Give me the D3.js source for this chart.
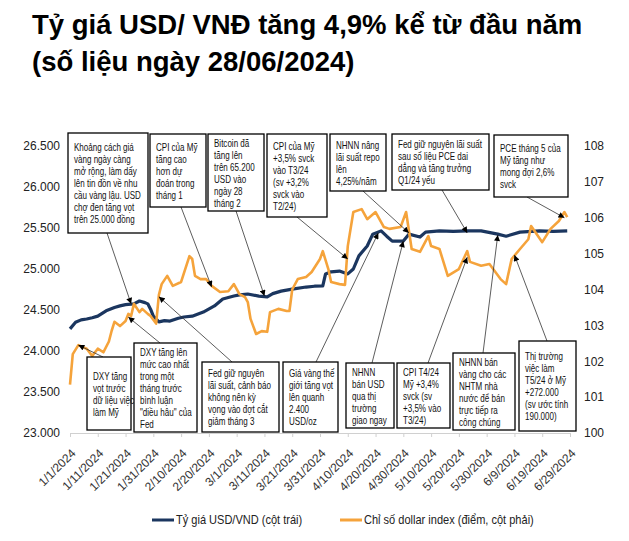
<!DOCTYPE html>
<html><head><meta charset="utf-8">
<script src="https://cdn.jsdelivr.net/npm/d3@7"></script>
<style>
body{margin:0;background:#fff}
svg{display:block}
text{font-family:"Liberation Sans",Arial,Helvetica,sans-serif}
</style>
</head><body>
<svg id="c" width="629" height="541"></svg>
<script>
// ---------- DATA ----------
const titleLines = ["Tỷ giá USD/ VNĐ tăng 4,9% kể từ đầu năm", "(số liệu ngày 28/06/2024)"];
const leftTicks = [23000, 23500, 24000, 24500, 25000, 25500, 26000, 26500];
const rightTicks = [100, 101, 102, 103, 104, 105, 106, 107, 108];
const xTickDates = ["2024-01-01","2024-01-11","2024-01-21","2024-01-31","2024-02-10","2024-02-20",
  "2024-03-01","2024-03-11","2024-03-21","2024-03-31","2024-04-10","2024-04-20","2024-04-30",
  "2024-05-10","2024-05-20","2024-05-30","2024-06-09","2024-06-19","2024-06-29"];
const seriesNames = ["Tỷ giá USD/VND (cột trái)", "Chỉ số dollar index (điểm, cột phải)"];

// USD/VND rate (left axis)
const usdVnd = [
  ["2024-01-01",24270],["2024-01-03",24350],["2024-01-05",24380],["2024-01-07",24390],["2024-01-09",24405],
  ["2024-01-11",24425],["2024-01-14",24490],["2024-01-17",24530],["2024-01-19",24550],["2024-01-21",24565],
  ["2024-01-24",24575],["2024-01-26",24610],["2024-01-28",24590],["2024-01-29",24575],["2024-01-30",24510],
  ["2024-01-31",24425],["2024-02-02",24355],["2024-02-04",24370],["2024-02-06",24365],["2024-02-09",24400],
  ["2024-02-11",24415],["2024-02-14",24425],["2024-02-18",24475],["2024-02-22",24550],["2024-02-25",24635],
  ["2024-02-29",24670],["2024-03-02",24685],["2024-03-05",24695],["2024-03-09",24670],["2024-03-12",24660],
  ["2024-03-14",24700],["2024-03-17",24730],["2024-03-21",24755],["2024-03-26",24780],["2024-03-29",24790],
  ["2024-04-01",24795],["2024-04-02",24940],["2024-04-04",24965],["2024-04-07",24975],["2024-04-10",24940],
  ["2024-04-12",25000],["2024-04-14",25160],["2024-04-17",25280],["2024-04-19",25425],["2024-04-22",25465],
  ["2024-04-24",25400],["2024-04-26",25340],["2024-04-30",25340],["2024-05-02",25425],["2024-05-06",25390],
  ["2024-05-08",25450],["2024-05-13",25465],["2024-05-18",25460],["2024-05-23",25465],["2024-05-28",25465],
  ["2024-06-03",25425],["2024-06-06",25400],["2024-06-11",25450],["2024-06-18",25465],["2024-06-23",25460],
  ["2024-06-28",25465]
];

// Dollar index (right axis)
const dxy = [
  ["2024-01-01",101.35],["2024-01-02",102.2],["2024-01-04",102.45],["2024-01-07",102.35],["2024-01-09",102.15],
  ["2024-01-11",102.35],["2024-01-13",102.25],["2024-01-15",102.55],["2024-01-16",102.85],["2024-01-17",103.1],
  ["2024-01-19",102.98],["2024-01-21",103.12],["2024-01-22",103.32],["2024-01-23",103.26],["2024-01-24",103.6],
  ["2024-01-26",103.37],["2024-01-27",103.46],["2024-01-29",103.32],["2024-01-30",103.26],["2024-02-01",103.05],
  ["2024-02-02",103.85],["2024-02-03",104.15],["2024-02-05",104.38],["2024-02-07",104.1],["2024-02-10",104.21],
  ["2024-02-13",104.93],["2024-02-14",104.85],["2024-02-15",104.38],["2024-02-17",104.29],["2024-02-19",104.29],
  ["2024-02-21",104.1],["2024-02-24",103.93],["2024-02-27",103.95],["2024-02-29",104.15],["2024-03-02",103.87],
  ["2024-03-04",103.79],["2024-03-05",103.65],["2024-03-06",103.18],["2024-03-08",102.76],["2024-03-10",102.84],
  ["2024-03-12",102.82],["2024-03-13",103.37],["2024-03-16",103.46],["2024-03-19",103.4],["2024-03-20",103.4],
  ["2024-03-21",104.0],["2024-03-23",104.29],["2024-03-26",104.35],["2024-03-28",104.49],["2024-03-31",104.85],
  ["2024-04-01",105.07],["2024-04-03",104.57],["2024-04-04",104.21],["2024-04-07",104.15],["2024-04-09",104.13],
  ["2024-04-10",105.21],["2024-04-12",106.16],["2024-04-15",106.24],["2024-04-17",105.96],["2024-04-20",106.16],
  ["2024-04-23",105.74],["2024-04-25",105.69],["2024-04-29",105.74],["2024-05-01",106.16],["2024-05-03",105.13],
  ["2024-05-06",105.05],["2024-05-09",105.49],["2024-05-10",105.21],["2024-05-13",105.13],["2024-05-16",104.38],
  ["2024-05-20",104.57],["2024-05-23",105.07],["2024-05-24",104.77],["2024-05-28",104.66],["2024-05-31",104.71],
  ["2024-06-04",104.29],["2024-06-06",104.15],["2024-06-08",104.85],["2024-06-11",105.13],["2024-06-14",105.4],
  ["2024-06-15",105.77],["2024-06-19",105.32],["2024-06-22",105.69],["2024-06-25",105.91],["2024-06-27",106.16],
  ["2024-06-28",106.02]
];

// annotation texts and the data point each one points to
const noteTexts = [
  ["Khoảng cách giá","vàng ngày càng","mở rộng, làm dấy","lên tin đồn về nhu","cầu vàng lậu. USD","chợ đen tăng vọt","trên 25.000 đồng"],
  ["CPI của Mỹ","tăng cao","hơn dự","đoán trong","tháng 1"],
  ["Bitcoin đã","tăng lên","trên 65.200","USD vào","ngày 28","tháng 2"],
  ["CPI của Mỹ","+3,5% svck","vào T3/24","(sv +3,2%","svck vào","T2/24)"],
  ["NHNN nâng","lãi suất repo","lên","4,25%/năm"],
  ["Fed giữ nguyên lãi suất","sau số liệu PCE dai","dẳng và tăng trưởng","Q1/24 yếu"],
  ["PCE tháng 5 của","Mỹ tăng như","mong đợi 2,6%","svck"],
  ["DXY tăng","vọt trước","dữ liệu việc","làm Mỹ"],
  ["DXY tăng lên","mức cao nhất","trong một","tháng trước","bình luận","\"diều hâu\" của","Fed"],
  ["Fed giữ nguyên","lãi suất, cảnh báo","không nên kỳ","vọng vào đợt cắt","giảm tháng 3"],
  ["Giá vàng thế","giới tăng vọt","lên quanh","2.400","USD/oz"],
  ["NHNN","bán USD","qua thị","trường","giao ngay"],
  ["CPI T4/24","Mỹ +3,4%","svck (sv","+3,5% vào","T3/24)"],
  ["NHNN bán","vàng cho các","NHTM nhà","nước để bán","trực tiếp ra","công chúng"],
  ["Thị trường","việc làm","T5/24 ở Mỹ","+272.000","(sv ước tính","190.000)"]
];
const noteTargets = [
  ["2024-01-23","L",24575],["2024-02-21","R",104.07],["2024-03-11","L",24670],["2024-04-10","R",104.85],
  ["2024-05-02","L",25440],["2024-05-23","L",25440],["2024-06-27","R",106.0],
  ["2024-01-04","R",102.45],["2024-01-22","R",103.23],["2024-02-02","R",103.8],["2024-04-21","L",25440],
  ["2024-04-30","L",25340],["2024-05-23","R",104.9],["2024-06-03","L",25415],["2024-06-09","R",104.96]
];

// ---------- LAYOUT ----------
// box: x, y, w, h, arrow start x on the box edge (top row: bottom edge, bottom row: top edge)
const noteBoxes = [
  [68,133,80,100,107,"b"],[150,134,56,73,181,"b"],[208,134,56,77,236,"b"],[267,134,60,83,297,"b"],
  [330,134,56,57,363,"b"],[392,134,97,56,442,"b"],[494,135,74,62,527,"b"],
  [87,357,44,73,103,"t"],[134,343,63,89,160,"t"],[202,362,77,70,232,"t"],[283,362,55,70,316,"t"],
  [346,363,48,65,372,"t"],[397,363,53,65,428,"t"],[453,353,62,77,483,"t"],[519,341,57,90,547,"t"]
];

const blue = "#1b365f", orange = "#f5a33b";
const parse = d3.timeParse("%Y-%m-%d");
const svg = d3.select("#c");

const x = d3.scaleTime().domain([parse("2024-01-01"), parse("2024-06-29")]).range([70, 570]);
const yL = d3.scaleLinear().domain([23000, 26500]).range([433, 146]);
const yR = d3.scaleLinear().domain([100, 108]).range([433, 146]);

// title
svg.append("g").selectAll("text").data(titleLines).join("text")
  .attr("x", 32).attr("y", (d, i) => 34 + i * 37)
  .attr("font-size", 27.5).attr("font-weight", "bold").attr("fill", "#000")
  .text(d => d);

// axes
const fmtL = d => d3.format(",")(d).replace(/,/g, ".");
const gL = svg.append("g").attr("transform", "translate(70,0)")
  .call(d3.axisLeft(yL).tickValues(leftTicks).tickFormat(fmtL).tickSize(0).tickPadding(10));
gL.select(".domain").remove();
const gR = svg.append("g").attr("transform", "translate(570,0)")
  .call(d3.axisRight(yR).tickValues(rightTicks).tickSize(0).tickPadding(14));
gR.select(".domain").remove();
[gL, gR].forEach(g => g.selectAll("text").attr("font-size", 12).attr("fill", "#222")
  .style("font-family", "'Liberation Sans',Arial,sans-serif"));

const gX = svg.append("g").attr("transform", "translate(0,433)")
  .call(d3.axisBottom(x).tickValues(xTickDates.map(parse)).tickFormat(d3.timeFormat("%-m/%-d/%Y")).tickSize(4));
gX.select(".domain").attr("stroke", "#d0d0d0");
gX.selectAll(".tick line").attr("stroke", "#d0d0d0");
gX.selectAll("text")
  .attr("x", 0).attr("y", 0).attr("dy", "0.35em")
  .attr("transform", "translate(3,18) rotate(-45)")
  .style("text-anchor", "end").attr("font-size", 12).attr("fill", "#333")
  .style("font-family", "'Liberation Sans',Arial,sans-serif");

// lines
const lineL = d3.line().x(d => x(parse(d[0]))).y(d => yL(d[1])).curve(d3.curveLinear);
const lineR = d3.line().x(d => x(parse(d[0]))).y(d => yR(d[1])).curve(d3.curveLinear);
svg.append("path").datum(usdVnd).attr("d", lineL).attr("fill", "none")
  .attr("stroke", blue).attr("stroke-width", 3.2).attr("stroke-linejoin", "round");
svg.append("path").datum(dxy).attr("d", lineR).attr("fill", "none")
  .attr("stroke", orange).attr("stroke-width", 2.6).attr("stroke-linejoin", "round");

// arrow marker
svg.append("defs").append("marker").attr("id", "ah")
  .attr("viewBox", "0 0 10 10").attr("refX", 10).attr("refY", 5)
  .attr("markerWidth", 7).attr("markerHeight", 6).attr("markerUnits", "userSpaceOnUse")
  .attr("orient", "auto")
  .append("path").attr("d", "M0,0L10,5L0,10Z").attr("fill", "#000");

// annotations
const lh = 12;
noteBoxes.forEach((b, i) => {
  const [bx, by, bw, bh, fx, side] = b;
  const t = noteTargets[i];
  const tx = x(parse(t[0])), ty = (t[1] === "L" ? yL : yR)(t[2]);
  const fy = side === "b" ? by + bh : by;
  svg.append("line").attr("x1", fx).attr("y1", fy).attr("x2", tx).attr("y2", ty)
    .attr("stroke", "#333").attr("stroke-width", 0.8).attr("marker-end", "url(#ah)");
  svg.append("rect").attr("x", bx).attr("y", by).attr("width", bw).attr("height", bh)
    .attr("fill", "#fff").attr("stroke", "#000").attr("stroke-width", 1.3);
  const lines = noteTexts[i];
  const y0 = by + bh / 2 - (lines.length - 1) * lh / 2 + 4;
  lines.forEach((s, j) => {
    svg.append("text")
      .attr("transform", `translate(${bx + 6},${y0 + j * lh}) scale(0.73,1)`)
      .attr("font-size", 11).attr("fill", "#111").text(s);
  });
});

// legend
const leg = [[152, blue], [340, orange]];
leg.forEach((l, i) => {
  svg.append("line").attr("x1", l[0]).attr("x2", l[0] + 22).attr("y1", 520).attr("y2", 520)
    .attr("stroke", l[1]).attr("stroke-width", 3);
  svg.append("text").attr("transform", `translate(${l[0] + 24},524) scale(0.92,1)`).attr("font-size", 12)
    .attr("fill", "#222").text(seriesNames[i]);
});
</script>
</body></html>
